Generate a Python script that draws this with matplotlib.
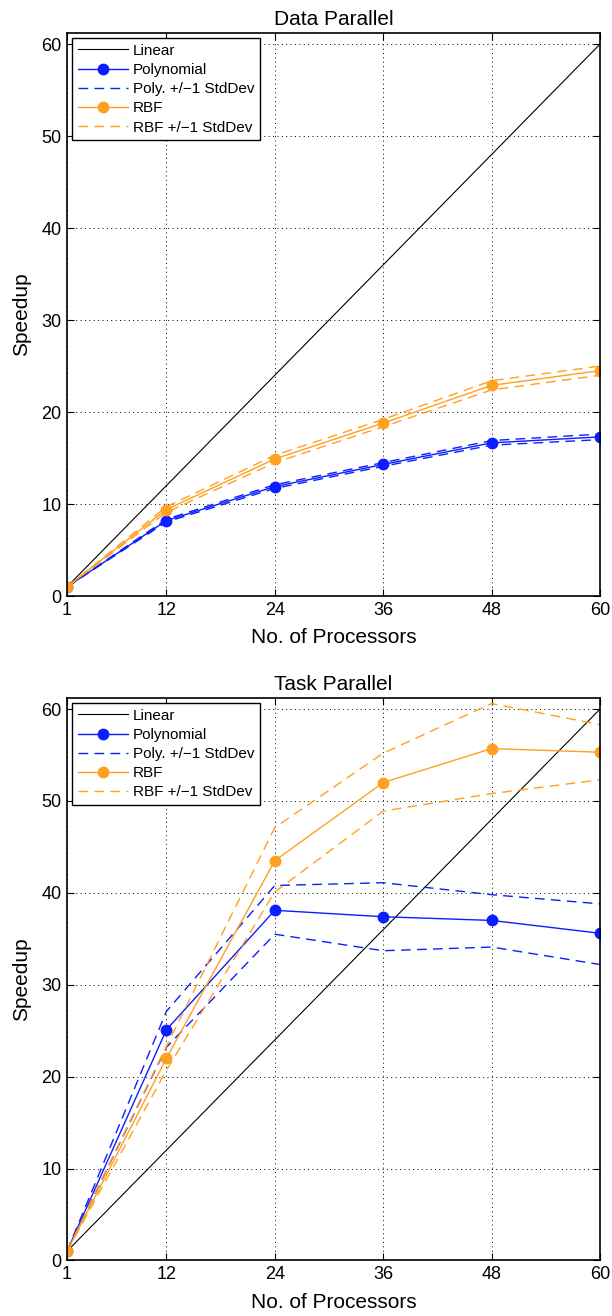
import matplotlib
matplotlib.use("Agg")
import matplotlib.pyplot as plt

plt.rcParams['font.family'] = ['Liberation Sans', 'DejaVu Sans']

procs = [1, 12, 24, 36, 48, 60]
xticks = [1, 12, 24, 36, 48, 60]
yticks = [0, 10, 20, 30, 40, 50, 60]

# Data Parallel
dp_poly = [1, 8.2, 11.9, 14.3, 16.65, 17.3]
dp_poly_hi = [1, 8.35, 12.1, 14.5, 16.9, 17.6]
dp_poly_lo = [1, 8.05, 11.7, 14.1, 16.4, 17.0]
dp_rbf = [1, 9.4, 14.9, 18.8, 22.9, 24.5]
dp_rbf_hi = [1, 9.7, 15.3, 19.2, 23.4, 25.0]
dp_rbf_lo = [1, 9.1, 14.5, 18.4, 22.4, 24.0]

# Task Parallel
tp_poly = [1, 25.1, 38.1, 37.4, 37.0, 35.6]
tp_poly_hi = [1, 27.1, 40.8, 41.1, 39.8, 38.8]
tp_poly_lo = [1, 23.2, 35.5, 33.7, 34.1, 32.2]
tp_rbf = [1, 22.0, 43.5, 52.0, 55.7, 55.3]
tp_rbf_hi = [1, 23.3, 47.1, 55.2, 60.6, 58.3]
tp_rbf_lo = [1, 20.7, 40.1, 48.9, 50.8, 52.3]

BLUE = '#0a1eff'
ORANGE = '#ffa01e'
DASH = (0, (7, 4.5))

fig = plt.figure(figsize=(6.12, 13.16), dpi=100)
ax1 = fig.add_axes([0.1095, 0.5471, 0.871, 0.4278])
ax2 = fig.add_axes([0.1095, 0.0422, 0.871, 0.4274])


def draw(ax, title, poly, phi, plo, rbf, rhi, rlo):
    ax.plot(procs, procs, color='black', lw=0.8, label='Linear')
    ax.plot(procs, poly, color=BLUE, lw=1.0, marker='o', ms=7.5,
            label='Polynomial')
    ax.plot(procs, phi, color=BLUE, lw=1.0, ls=DASH,
            label='Poly. +/\u22121 StdDev')
    ax.plot(procs, plo, color=BLUE, lw=1.0, ls=DASH)
    ax.plot(procs, rbf, color=ORANGE, lw=1.0, marker='o', ms=7.5,
            label='RBF')
    ax.plot(procs, rhi, color=ORANGE, lw=1.0, ls=DASH,
            label='RBF +/\u22121 StdDev')
    ax.plot(procs, rlo, color=ORANGE, lw=1.0, ls=DASH)
    ax.set_xlim(1, 60)
    ax.set_ylim(0, 61.2)
    ax.set_xticks(xticks)
    ax.set_yticks(yticks)
    ax.grid(True, color='black', ls=(0, (1, 3.5)), lw=0.7)
    ax.tick_params(direction='in', top=True, right=True, labelsize=13,
                   length=5, width=0.8, pad=4)
    for s in ax.spines.values():
        s.set_linewidth(1.2)
    ax.set_title(title, fontsize=15, pad=6)
    ax.set_xlabel('No. of Processors', fontsize=15, labelpad=7)
    ax.set_ylabel('Speedup', fontsize=15, labelpad=7)
    leg = ax.legend(loc='upper left', fontsize=11, fancybox=False,
                    framealpha=1, edgecolor='black', handlelength=3.3,
                    labelspacing=0.34, borderaxespad=0.35, borderpad=0.35,
                    handletextpad=0.3)
    leg.get_frame().set_linewidth(1.0)


draw(ax1, 'Data Parallel', dp_poly, dp_poly_hi, dp_poly_lo,
     dp_rbf, dp_rbf_hi, dp_rbf_lo)
draw(ax2, 'Task Parallel', tp_poly, tp_poly_hi, tp_poly_lo,
     tp_rbf, tp_rbf_hi, tp_rbf_lo)

fig.savefig('out.png', dpi=100)
